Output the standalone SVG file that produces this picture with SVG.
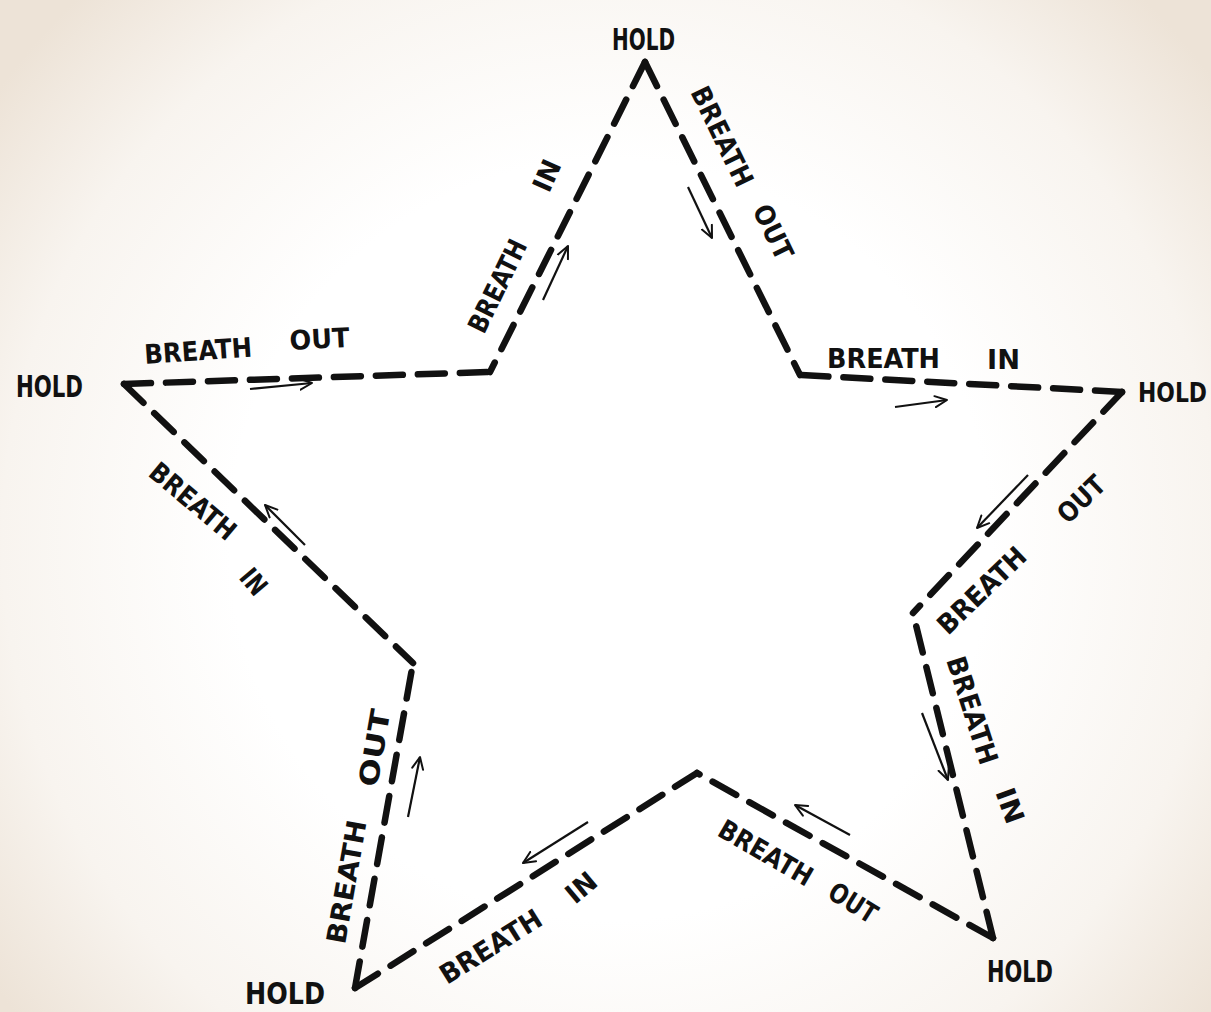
<svg xmlns="http://www.w3.org/2000/svg" width="1211" height="1012" viewBox="0 0 1211 1012">
<defs>
<radialGradient id="bg" gradientUnits="userSpaceOnUse" cx="610" cy="540" r="760">
<stop offset="0" stop-color="#ffffff"/>
<stop offset="0.5" stop-color="#ffffff"/>
<stop offset="0.8" stop-color="#f8f4ef"/>
<stop offset="1" stop-color="#ede3d7"/>
</radialGradient>
<marker id="ah" viewBox="0 0 14 14" refX="13" refY="7" markerWidth="14" markerHeight="14" markerUnits="userSpaceOnUse" orient="auto">
<path d="M1,1.5 L13,7 L1,12.5" fill="none" stroke="#111" stroke-width="2" stroke-linecap="round" stroke-linejoin="round"/>
</marker>
<style>
.edge{fill:none;stroke:#111;stroke-width:6.5;stroke-dasharray:27 15;stroke-linecap:round}
.arr{fill:none;stroke:#111;stroke-width:2.2;marker-end:url(#ah)}
.lbl{font-family:"Liberation Sans Narrow","DejaVu Sans Condensed","Liberation Sans",sans-serif;font-weight:bold;font-size:27px;fill:#111}
.hold{font-family:"Liberation Sans Narrow","DejaVu Sans Condensed","Liberation Sans",sans-serif;font-weight:bold;font-size:30px;fill:#111}
</style>
</defs>
<rect width="1211" height="1012" fill="url(#bg)"/>

<g id="connectors">
<path class="edge" d="M645,62 L490,372"/>
<path class="edge" d="M645,62 L800,375"/>
<path class="edge" d="M124,384 L490,372"/>
<path class="edge" d="M124,384 L413,663"/>
<path class="edge" d="M1122,392 L800,375"/>
<path class="edge" d="M1122,392 L913,613"/>
<path class="edge" d="M993,938 L913,613"/>
<path class="edge" d="M993,938 L697,773"/>
<path class="edge" d="M355,988 L697,773"/>
<path class="edge" d="M355,988 L413,663"/>

<line class="arr" x1="543" y1="300" x2="568" y2="246"/>
<line class="arr" x1="688" y1="187" x2="712" y2="238"/>
<line class="arr" x1="250" y1="389" x2="312" y2="383"/>
<line class="arr" x1="895" y1="407" x2="947" y2="400"/>
<line class="arr" x1="305" y1="545" x2="265" y2="505"/>
<line class="arr" x1="1028" y1="475" x2="977" y2="528"/>
<line class="arr" x1="922" y1="713" x2="948" y2="780"/>
<line class="arr" x1="850" y1="835" x2="795" y2="805"/>
<line class="arr" x1="588" y1="822" x2="523" y2="863"/>
<line class="arr" x1="408" y1="817" x2="420" y2="757"/>
</g>

<g id="hold-top"><text class="hold" x="612" y="50" textLength="63" lengthAdjust="spacingAndGlyphs">HOLD</text></g>
<g id="hold-left"><text class="hold" x="16" y="397" textLength="67" lengthAdjust="spacingAndGlyphs">HOLD</text></g>
<g id="hold-right"><text class="hold" x="1138" y="402" textLength="69" lengthAdjust="spacingAndGlyphs" style="font-size:26px">HOLD</text></g>
<g id="hold-bottom-right"><text class="hold" x="987" y="982" textLength="66" lengthAdjust="spacingAndGlyphs">HOLD</text></g>
<g id="hold-bottom-left"><text class="hold" x="245" y="1004" textLength="80" lengthAdjust="spacingAndGlyphs">HOLD</text></g>

<g id="labels">
<g transform="translate(484,335) rotate(-64)"><text class="lbl" x="0" y="0" textLength="100" lengthAdjust="spacingAndGlyphs">BREATH</text></g>
<g transform="translate(549,194) rotate(-66)"><text class="lbl" x="0" y="0" textLength="32" lengthAdjust="spacingAndGlyphs">IN</text></g>

<g transform="translate(690,92) rotate(64)"><text class="lbl" x="0" y="0" textLength="108" lengthAdjust="spacingAndGlyphs">BREATH</text></g>
<g transform="translate(752,210) rotate(64)"><text class="lbl" x="0" y="0" textLength="58" lengthAdjust="spacingAndGlyphs">OUT</text></g>

<g transform="translate(145,364) rotate(-4)"><text class="lbl" x="0" y="0" textLength="108" lengthAdjust="spacingAndGlyphs">BREATH</text></g>
<g transform="translate(290,350) rotate(-3)"><text class="lbl" x="0" y="0" textLength="60" lengthAdjust="spacingAndGlyphs">OUT</text></g>

<g transform="translate(827,368) rotate(0)"><text class="lbl" x="0" y="0" textLength="113" lengthAdjust="spacingAndGlyphs">BREATH</text></g>
<g transform="translate(987,369) rotate(0)"><text class="lbl" x="0" y="0" textLength="33" lengthAdjust="spacingAndGlyphs">IN</text></g>

<g transform="translate(147,475) rotate(40)"><text class="lbl" x="0" y="0" textLength="104" lengthAdjust="spacingAndGlyphs">BREATH</text></g>
<g transform="translate(238,578) rotate(50)"><text class="lbl" x="0" y="0" textLength="26" lengthAdjust="spacingAndGlyphs">IN</text></g>

<g transform="translate(948,636) rotate(-44)"><text class="lbl" x="0" y="0" textLength="112" lengthAdjust="spacingAndGlyphs">BREATH</text></g>
<g transform="translate(1068,525) rotate(-44)"><text class="lbl" x="0" y="0" textLength="55" lengthAdjust="spacingAndGlyphs">OUT</text></g>

<g transform="translate(946,660) rotate(72)"><text class="lbl" x="0" y="0" textLength="112" lengthAdjust="spacingAndGlyphs">BREATH</text></g>
<g transform="translate(995,792) rotate(70)"><text class="lbl" x="0" y="0" textLength="36" lengthAdjust="spacingAndGlyphs">IN</text></g>

<g transform="translate(716,835) rotate(30)"><text class="lbl" x="0" y="0" textLength="104" lengthAdjust="spacingAndGlyphs">BREATH</text></g>
<g transform="translate(826,897) rotate(32)"><text class="lbl" x="0" y="0" textLength="52" lengthAdjust="spacingAndGlyphs">OUT</text></g>

<g transform="translate(447,985) rotate(-32)"><text class="lbl" x="0" y="0" textLength="115" lengthAdjust="spacingAndGlyphs">BREATH</text></g>
<g transform="translate(575,905) rotate(-40)"><text class="lbl" x="0" y="0" textLength="32" lengthAdjust="spacingAndGlyphs">IN</text></g>

<g transform="translate(345,945) rotate(-80)"><text class="lbl" x="0" y="0" textLength="125" lengthAdjust="spacingAndGlyphs">BREATH</text></g>
<g transform="translate(377,788) rotate(-80)"><text class="lbl" x="0" y="0" textLength="78" lengthAdjust="spacingAndGlyphs">OUT</text></g>
</g>
</svg>
